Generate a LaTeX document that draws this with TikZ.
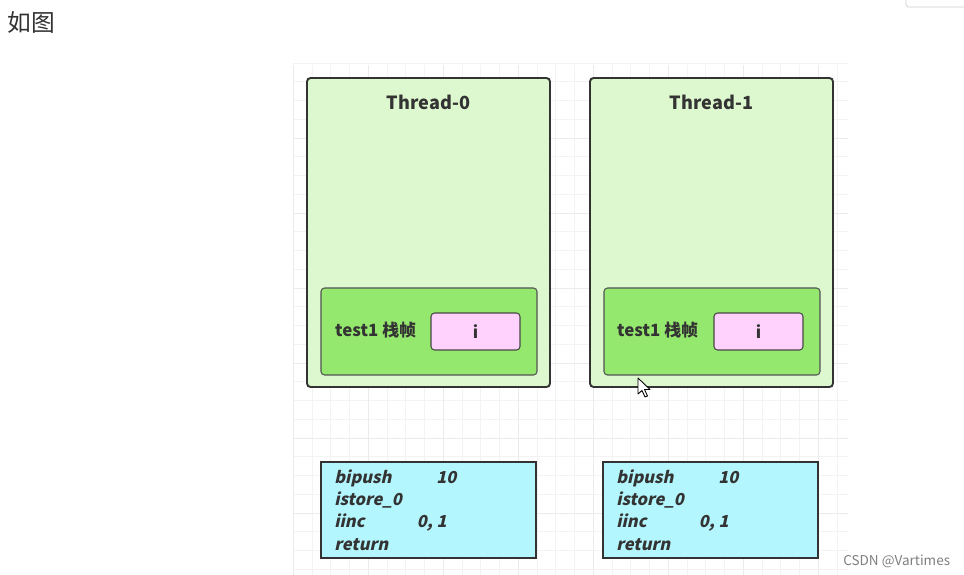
\documentclass[tikz,border=0pt]{standalone}
\usepackage{fontspec}
\setmainfont{Noto Sans CJK SC}
\newfontfamily\codefont{Noto Sans CJK SC}[FakeSlant=0.22]
\definecolor{threadfill}{HTML}{DDF8CE}
\definecolor{framefill}{HTML}{95E86E}
\definecolor{slotfill}{HTML}{FFD2FD}
\definecolor{codefill}{HTML}{B4F6FE}
\definecolor{ink}{HTML}{333333}
\definecolor{gridminor}{HTML}{F3F3F3}
\definecolor{gridmajor}{HTML}{EBEBEB}

\begin{document}
\begin{tikzpicture}[
    x=0.02cm, y=-0.02cm,
    minor/.style={gridminor, line width=0.4pt},
    major/.style={gridmajor, line width=0.5pt},
    thread/.style={draw=ink, line width=1.1pt, fill=threadfill, rounded corners=2pt,
        minimum width=4.86cm, minimum height=6.18cm, inner sep=0pt},
    frame/.style={draw=ink!85, line width=0.6pt, fill=framefill, rounded corners=2pt,
        minimum width=4.32cm, minimum height=1.74cm, inner sep=0pt},
    slot/.style={draw=ink!90, line width=0.6pt, fill=slotfill, rounded corners=2pt,
        minimum width=1.78cm, minimum height=0.74cm, inner sep=0pt,
        font=\fontsize{9.5}{10}\selectfont\bfseries, text=ink},
    code/.style={draw=ink, line width=1.1pt, fill=codefill,
        minimum width=4.3cm, minimum height=1.92cm, inner sep=0pt},
    title/.style={font=\fontsize{10.3}{12}\selectfont\bfseries, text=ink},
    label/.style={font=\fontsize{9.6}{10}\selectfont\bfseries, text=ink, anchor=west},
    listing/.style={font=\codefont\fontsize{9.4}{12.7}\selectfont\bfseries, text=ink,
        anchor=north west, align=left, inner sep=0pt}
]
    \useasboundingbox (0,0) rectangle (964,575);
    \fill[white] (0,0) rectangle (964,575);

    % grid
    \foreach \gx in {0,...,29}
        \draw[minor] (293.3+18.75*\gx,65) -- (293.3+18.75*\gx,575);
    \foreach \gy in {0,...,27}
        \draw[minor] (293,63+18.75*\gy) -- (848,63+18.75*\gy);
    \foreach \gx in {0,...,7}
        \draw[major] (293.3+75*\gx,65) -- (293.3+75*\gx,575);
    \foreach \gy in {1,...,6}
        \draw[major] (293,63+75*\gy) -- (848,63+75*\gy);

    % page bits
    \node[anchor=west, inner sep=0pt, text=ink, font=\fontsize{13.5}{15}\selectfont] (heading) at (7,23) {如图};
    \draw[gray!40, fill=white, rounded corners=1pt] (906,-5) rectangle (970,7);

    % Thread-0
    \node[thread] (t0) at (428.5,232.5) {};
    \node[title] (t0name) at (428.5,102) {Thread-0};
    \node[frame] (f0) at (429,331.5) {};
    \node[label] (f0name) at (329,330) {test1 栈帧};
    \node[slot] (s0) at (475.5,331.5) {i};

    % Thread-1
    \node[thread] (t1) at (711.5,232.5) {};
    \node[title] (t1name) at (711.5,102) {Thread-1};
    \node[frame] (f1) at (712,331.5) {};
    \node[label] (f1name) at (611,330) {test1 栈帧};
    \node[slot] (s1) at (758.5,331.5) {i};

    % bytecode
    \node[code] (c0) at (428.5,510) {};
    \node[listing] (c0text) at (334,469) {\makebox[58pt][l]{bipush}10\\istore\_0\\\makebox[47pt][l]{iinc}0, 1\\return};
    \node[code] (c1) at (710.5,510) {};
    \node[listing] (c1text) at (616,469) {\makebox[58pt][l]{bipush}10\\istore\_0\\\makebox[47pt][l]{iinc}0, 1\\return};

    % cursor
    \draw[black, fill=white, line width=0.5pt, line join=round]
        (638,378) -- (638,394) -- (642,390.5) -- (645,397) -- (647.5,396) -- (644.5,389.5) -- (650,389.5) -- cycle;

    \node[anchor=west, inner sep=0pt, text=gray, font=\fontsize{7.7}{9}\selectfont] (mark) at (843,561) {CSDN @Vartimes};
\end{tikzpicture}
\end{document}
